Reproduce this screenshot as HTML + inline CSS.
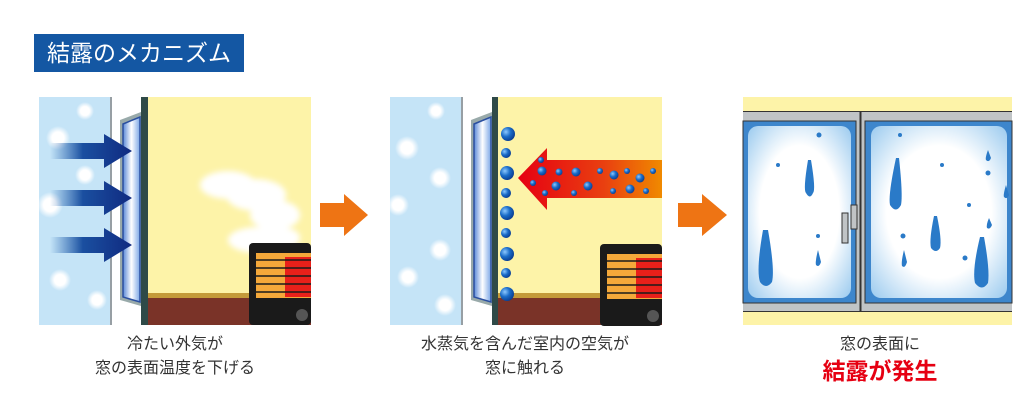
<!DOCTYPE html>
<html><head><meta charset="utf-8"><style>
body{margin:0;width:1024px;height:403px;background:#fff;position:relative;overflow:hidden;font-family:"Liberation Sans","Noto Sans CJK JP",sans-serif}
.a{position:absolute}
.t{position:absolute;text-align:center;color:#333;font-size:16px;line-height:24px}
</style></head><body>
<div class="a" style="left:34px;top:34px;width:210px;height:38px;background:#1457a3;color:#fff;font-size:23px;line-height:38px;text-indent:13px">結露のメカニズム</div>

<svg class="a" style="left:0;top:0" width="1024" height="403">
<defs>
<filter id="bl"><feGaussianBlur stdDeviation="3"/></filter>
<linearGradient id="ba" x1="0" x2="1"><stop offset="0" stop-color="#1a5fb0" stop-opacity="0"/><stop offset="0.4" stop-color="#1a4fa0"/><stop offset="1" stop-color="#102a80"/></linearGradient>
<linearGradient id="ra" x1="0" x2="1"><stop offset="0" stop-color="#e60012"/><stop offset="0.6" stop-color="#e94010"/><stop offset="1" stop-color="#f08a00"/></linearGradient>
<linearGradient id="gl" x1="0" x2="1"><stop offset="0" stop-color="#5a8ad8"/><stop offset="0.5" stop-color="#fff"/><stop offset="1" stop-color="#7aa6e6"/></linearGradient>
<radialGradient id="dr" cx="0.35" cy="0.35" r="0.7"><stop offset="0" stop-color="#8cc8ff"/><stop offset="0.5" stop-color="#1a6cc8"/><stop offset="1" stop-color="#0a3c90"/></radialGradient>
<radialGradient id="wg" cx="0.5" cy="0.5" r="0.7"><stop offset="0.55" stop-color="#fff"/><stop offset="1" stop-color="#9ccbef"/></radialGradient>
<radialGradient id="sn"><stop offset="0.5" stop-color="#fff"/><stop offset="1" stop-color="#fff" stop-opacity="0"/></radialGradient>
<g id="heat">
<rect x="0" y="0" width="62" height="82" fill="#1a1a1a" rx="4"/>
<rect x="7" y="10" width="55" height="45" fill="#f4a83a"/>
<rect x="36" y="14" width="26" height="40" fill="#e8201a"/>
<g stroke="#1a1a1a" stroke-width="1.5"><line x1="7" y1="17" x2="62" y2="17"/><line x1="7" y1="25" x2="62" y2="25"/><line x1="7" y1="33" x2="62" y2="33"/><line x1="7" y1="41" x2="62" y2="41"/><line x1="7" y1="49" x2="62" y2="49"/></g>
<circle cx="53" cy="72" r="6" fill="#555"/>
</g>
</defs>

<rect x="39" y="97" width="73" height="228" fill="#c5e4f7"/>
<line x1="111" y1="97" x2="111" y2="325" stroke="#888" stroke-width="1.5"/>
<g fill="url(#sn)"><circle cx="85" cy="111" r="9"/><circle cx="58" cy="138" r="12"/><circle cx="85" cy="175" r="10"/><circle cx="50" cy="205" r="13"/><circle cx="60" cy="280" r="11"/><circle cx="97" cy="300" r="10"/></g>
<rect x="148" y="97" width="163" height="200" fill="#fdf3a8"/>
<rect x="148" y="293" width="163" height="5" fill="#c49a3a"/>
<rect x="148" y="298" width="163" height="27" fill="#7a3328"/>
<polygon points="120,120 141,112 141,306 120,300" fill="#9aa"/>
<polygon points="123,124 140,117 140,302 123,297" fill="url(#gl)" stroke="#2a4fa0" stroke-width="1.5"/>
<rect x="141" y="97" width="7" height="228" fill="#2f4a48"/>
<g fill="#fff" filter="url(#bl)"><ellipse cx="228" cy="185" rx="28" ry="14"/><ellipse cx="256" cy="195" rx="30" ry="16"/><ellipse cx="275" cy="215" rx="25" ry="15"/><ellipse cx="258" cy="240" rx="30" ry="13"/><ellipse cx="285" cy="238" rx="15" ry="10"/></g>
<use href="#heat" x="249" y="243"/>
<g fill="url(#ba)"><polygon points="50,143 104,143 104,134 132,151 104,168 104,159 50,159"/><polygon points="50,190 104,190 104,181 132,198 104,215 104,206 50,206"/><polygon points="50,237 104,237 104,228 132,245 104,262 104,253 50,253"/></g>
<polygon points="320,203 344,203 344,194 368,215 344,236 344,227 320,227" fill="#ee7414"/>

<rect x="390" y="97" width="73" height="228" fill="#c5e4f7"/>
<line x1="462" y1="97" x2="462" y2="325" stroke="#888" stroke-width="1.5"/>
<g fill="url(#sn)"><circle cx="436" cy="111" r="9"/><circle cx="407" cy="148" r="12"/><circle cx="440" cy="178" r="11"/><circle cx="398" cy="205" r="11"/><circle cx="440" cy="250" r="11"/><circle cx="408" cy="277" r="11"/><circle cx="445" cy="305" r="11"/></g>
<rect x="498" y="97" width="164" height="200" fill="#fdf3a8"/>
<rect x="498" y="293" width="164" height="5" fill="#c49a3a"/>
<rect x="498" y="298" width="164" height="27" fill="#7a3328"/>
<polygon points="471,120 492,112 492,306 471,300" fill="#9aa"/>
<polygon points="474,124 491,117 491,302 474,297" fill="url(#gl)" stroke="#2a4fa0" stroke-width="1.5"/>
<rect x="492" y="97" width="6" height="228" fill="#2f4a48"/>
<polygon points="518,178 547,148 547,160 662,160 662,198 547,198 547,210" fill="url(#ra)"/>
<g fill="url(#dr)"><circle cx="542" cy="171" r="4.5"/><circle cx="559" cy="172" r="3.5"/><circle cx="576" cy="172" r="4.5"/><circle cx="600" cy="171" r="3"/><circle cx="614" cy="175" r="4.5"/><circle cx="627" cy="171" r="3"/><circle cx="640" cy="178" r="4.5"/><circle cx="653" cy="171" r="3"/><circle cx="533" cy="183" r="3"/><circle cx="556" cy="186" r="4.5"/><circle cx="588" cy="186" r="4.5"/><circle cx="545" cy="193" r="3"/><circle cx="574" cy="193" r="3"/><circle cx="613" cy="191" r="3"/><circle cx="630" cy="189" r="4.5"/><circle cx="646" cy="191" r="3"/><circle cx="541" cy="160" r="3"/>
<circle cx="508" cy="134" r="7"/><circle cx="506" cy="153" r="5"/><circle cx="507" cy="173" r="7"/><circle cx="506" cy="193" r="5"/><circle cx="507" cy="213" r="7"/><circle cx="506" cy="233" r="5"/><circle cx="507" cy="254" r="7"/><circle cx="506" cy="273" r="5"/><circle cx="507" cy="294" r="7"/></g>
<use href="#heat" x="600" y="244"/>
<polygon points="678,203 702,203 702,194 727,215 702,236 702,227 678,227" fill="#ee7414"/>

<rect x="743" y="97" width="269" height="228" fill="#fdf3a8"/>
<rect x="743" y="111" width="269" height="201" fill="#c0c4c6"/>
<line x1="743" y1="111.5" x2="1012" y2="111.5" stroke="#333"/>
<line x1="743" y1="311.5" x2="1012" y2="311.5" stroke="#333"/>
<rect x="743" y="121" width="113" height="182" fill="#3d86cc" stroke="#333"/>
<rect x="865" y="121" width="147" height="182" fill="#3d86cc" stroke="#333"/>
<rect x="748" y="126" width="103" height="172" rx="10" fill="url(#wg)"/>
<rect x="871" y="126" width="136" height="172" rx="10" fill="url(#wg)"/>
<line x1="860.5" y1="111" x2="860.5" y2="312" stroke="#333" stroke-width="2"/>
<rect x="842" y="213" width="6" height="30" fill="#c0c4c6" stroke="#333"/>
<rect x="851" y="205" width="6" height="24" fill="#c0c4c6" stroke="#333"/>
<g fill="#2a7ac8"><circle cx="819" cy="135" r="2.5"/><circle cx="778" cy="165" r="2"/><circle cx="818" cy="236" r="2"/><circle cx="900" cy="135" r="2"/><circle cx="942" cy="165" r="2"/><circle cx="988" cy="173" r="2.5"/><circle cx="969" cy="205" r="2"/><circle cx="903" cy="236" r="2.5"/><circle cx="965" cy="258" r="2.5"/>
<path d="M808,160 Q803,190 806,193 Q810,200 813,193 Q816,190 811,160Z"/>
<path d="M763,230 Q756,270 760,282 Q766,290 772,282 Q775,270 768,230Z"/>
<path d="M896,158 Q888,195 890,205 Q896,214 901,205 Q903,195 899,158Z"/>
<path d="M934,216 Q929,240 931,248 Q936,254 940,248 Q942,240 937,216Z"/>
<path d="M980,237 Q972,270 975,283 Q982,292 988,283 Q990,270 984,237Z"/>
<path d="M988,150 Q985,158 986,160 Q989,163 991,158Z"/><path d="M1006,185 Q1003,195 1004,197 Q1007,200 1009,195Z"/><path d="M989,218 Q986,225 987,228 Q990,230 992,225Z"/><path d="M904,250 Q901,262 902,266 Q905,269 907,262Z"/><path d="M818,250 Q815,262 816,265 Q819,268 821,262Z"/></g>
</svg>

<div class="t" style="left:60px;top:333px;width:230px">冷たい外気が<br>窓の表面温度を下げる</div>
<div class="t" style="left:380px;top:333px;width:290px">水蒸気を含んだ室内の空気が<br>窓に触れる</div>
<div class="t" style="left:780px;top:333px;width:200px">窓の表面に</div>
<div class="t" style="left:780px;top:356px;width:200px;color:#e60012;font-size:23px;font-weight:bold;line-height:30px">結露が発生</div>
</body></html>
